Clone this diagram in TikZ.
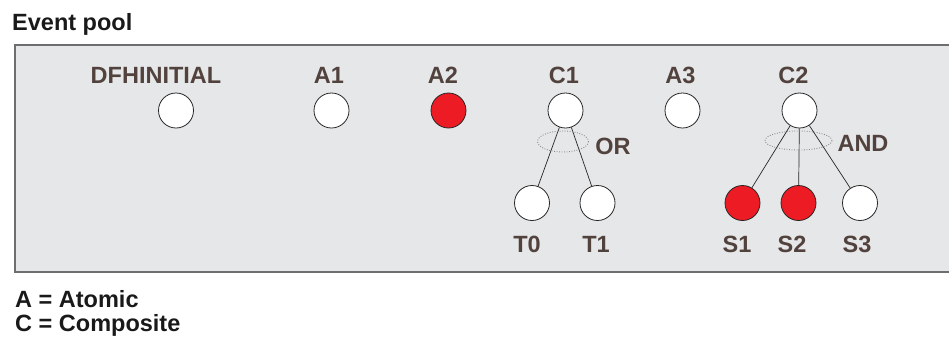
\documentclass[tikz,border=0pt]{standalone}
\usepackage{fontspec}
\setmainfont{Liberation Sans}
\definecolor{poolfill}{HTML}{E6E7E8}
\definecolor{poolborder}{HTML}{6D6E70}
\definecolor{labelcol}{HTML}{52423E}
\definecolor{evred}{HTML}{ED1C24}
\begin{document}
\begin{tikzpicture}[x=1pt,y=-1pt,
  ev/.style={circle,draw=black!85,line width=0.8pt,fill=white,minimum size=35pt,inner sep=0pt},
  evred/.style={ev,fill=evred},
  lbl/.style={anchor=base,text=labelcol,font=\fontsize{23.5}{28}\selectfont\bfseries,inner sep=0pt},
  title/.style={anchor=base west,text=black!90,font=\fontsize{23.5}{28}\selectfont\bfseries,inner sep=0pt},
  link/.style={draw=black!85,line width=0.7pt},
  grp/.style={draw=black!45,line width=0.9pt,dash pattern=on 0.9pt off 1.6pt}]
\useasboundingbox (0,0) rectangle (949,341);
\fill[poolfill] (15,45) rectangle (952,272);
\draw[poolborder,line width=1.4pt] (952,45) -- (15,45) -- (15,272) -- (952,272);
\node[title] (title) at (12,30) {Event pool};
\node[title] (legA) at (15,307) {A = Atomic};
\node[title] (legC) at (15,331) {C = Composite};
% top row
\node[lbl] (lDF) at (156,83) {DFHINITIAL};
\node[ev] (DF) at (176,110.5) {};
\node[lbl] (lA1) at (329,83) {A1};
\node[ev] (A1) at (331.5,110.5) {};
\node[lbl] (lA2) at (443,83) {A2};
\node[evred] (A2) at (448.5,110.5) {};
\node[lbl] (lC1) at (564,83) {C1};
\node[ev] (C1) at (565.5,110.5) {};
\node[lbl] (lA3) at (680.5,83) {A3};
\node[ev] (A3) at (682.5,110.5) {};
\node[lbl] (lC2) at (793.5,83) {C2};
\node[ev] (C2) at (799.5,110.5) {};
% children
\node[ev] (T0) at (532,203) {};
\node[ev] (T1) at (597.5,203) {};
\node[evred] (S1) at (742.5,203) {};
\node[evred] (S2) at (798.5,203) {};
\node[ev] (S3) at (860,203) {};
\node[lbl] (lT0) at (527,252) {T0};
\node[lbl] (lT1) at (596,252) {T1};
\node[lbl] (lS1) at (737,252) {S1};
\node[lbl] (lS2) at (792,252) {S2};
\node[lbl] (lS3) at (857,252) {S3};
% links
\draw[link] (C1) -- (T0);
\draw[link] (C1) -- (T1);
\draw[link] (C2) -- (S1);
\draw[link] (C2) -- (S2);
\draw[link] (C2) -- (S3);
% grouping ellipses
\draw[grp] (563,141.5) ellipse [x radius=25.5, y radius=10.5];
\draw[grp] (798.5,140.5) ellipse [x radius=33.5, y radius=9.5];
\node[lbl] (lOR) at (613,154) {OR};
\node[lbl] (lAND) at (863,151) {AND};
\end{tikzpicture}
\end{document}
